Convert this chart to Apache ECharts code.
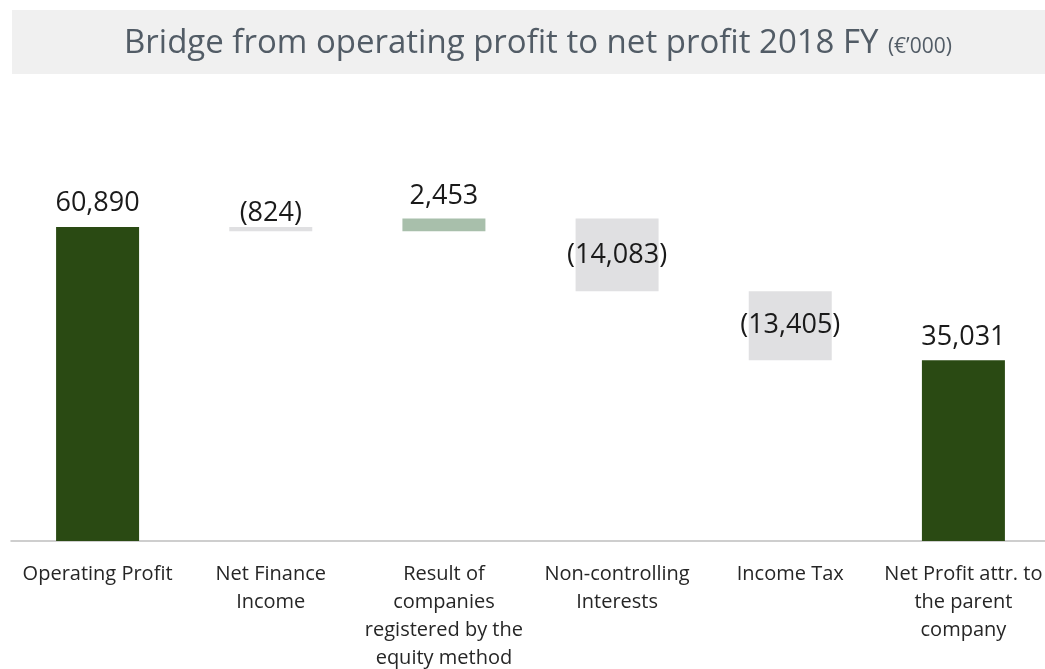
<!DOCTYPE html>
<html>
<head>
<meta charset="utf-8">
<script src="https://cdn.jsdelivr.net/npm/echarts@6/dist/echarts.min.js"></script>
<style>
  html, body { margin: 0; padding: 0; background: #fff; }
  #chart { width: 1045px; height: 669px; }
</style>
</head>
<body>
<div id="chart"></div>
<script>
// bridge steps, in €'000
const categories = [
  'Operating Profit',
  'Net Finance\nIncome',
  'Result of\ncompanies\nregistered by the\nequity method',
  'Non-controlling\nInterests',
  'Income Tax',
  'Net Profit attr. to\nthe parent\ncompany'
];
const changes = [60890, -824, 2453, -14083, -13405, 35031];
const isTotal = [true, false, false, false, false, true];
const barColors = ['#2a4a13', '#e0e0e2', '#a8bfab', '#e0e0e2', '#e0e0e2', '#2a4a13'];
const labelPos = ['top', 'top', 'top', 'inside', 'inside', 'top'];
const labelGap = [10, 0, 9, 0, 0, 10];

// invisible base + visible step
const base = [];
const step = [];
let running = 0;
changes.forEach((v, i) => {
  if (isTotal[i]) {
    base.push(0);
    step.push(v);
    running = v;
  } else {
    const next = running + v;
    base.push(Math.min(running, next));
    step.push(Math.abs(v));
    running = next;
  }
});

function fmt(v) {
  const s = Math.abs(v).toLocaleString('en-US');
  return v < 0 ? '(' + s + ')' : s;
}

const chart = echarts.init(document.getElementById('chart'));
chart.setOption({
  animation: false,
  textStyle: { fontFamily: 'Open Sans' },
  graphic: [{
    type: 'rect',
    shape: { x: 12, y: 10, width: 1040, height: 64 },
    style: { fill: '#f0f0f0' },
    z: -1
  }],
  title: {
    text: '{a|Bridge from operating profit to net profit 2018 FY}  {b|(€’000)}',
    left: 119,
    top: 22,
    textStyle: {
      rich: {
        a: { fontSize: 33, fontWeight: 'normal', color: '#525c66', fontFamily: 'Open Sans' },
        b: { fontSize: 21, fontWeight: 'normal', color: '#525c66', fontFamily: 'Open Sans', padding: [7, 0, 0, 0] }
      }
    }
  },
  grid: { left: 11, top: 180, width: 1039, bottom: 128, outerBoundsMode: 'none' },
  xAxis: {
    type: 'category',
    data: categories,
    axisLine: { lineStyle: { color: '#bfbfbf', width: 1.5 } },
    axisTick: { show: false },
    axisLabel: {
      interval: 0,
      margin: 19,
      fontSize: 20,
      lineHeight: 28,
      color: '#262626',
      fontFamily: 'Open Sans'
    }
  },
  yAxis: {
    type: 'value',
    min: 0,
    max: 70000,
    show: false,
    splitLine: { show: false }
  },
  series: [
    {
      type: 'bar',
      stack: 'bridge',
      barWidth: 83,
      itemStyle: { color: 'transparent' },
      data: base,
      silent: true
    },
    {
      type: 'bar',
      stack: 'bridge',
      barWidth: 83,
      data: step.map((v, i) => ({
        value: v,
        itemStyle: { color: barColors[i] },
        label: {
          show: true,
          position: labelPos[i],
          distance: labelGap[i],
          formatter: fmt(changes[i]),
          fontSize: 27,
          color: '#1a1a1a',
          fontFamily: 'Open Sans'
        }
      }))
    }
  ]
});
</script>
</body>
</html>
